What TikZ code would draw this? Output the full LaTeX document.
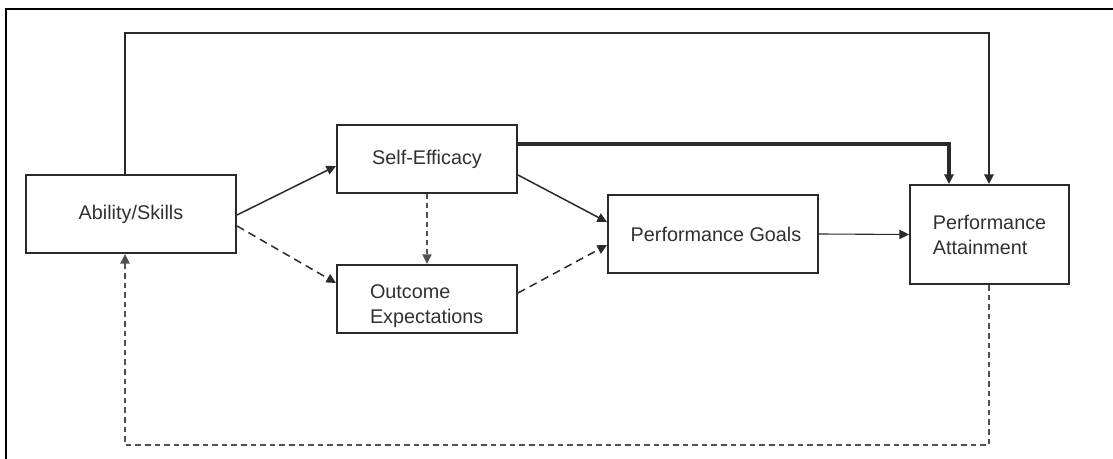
\documentclass[tikz,border=0pt]{standalone}
\usepackage{fontspec}
\setmainfont{Liberation Sans}
\usetikzlibrary{arrows.meta}
\definecolor{ln}{HTML}{2A2A2A}
\definecolor{dg}{HTML}{505050}
\definecolor{tx}{HTML}{303030}
\begin{document}
\begin{tikzpicture}[x=0.5pt,y=-0.5pt,
  box/.style={draw=ln,line width=1pt,rectangle,inner sep=0pt,text=tx,font=\fontsize{9.9}{12.5}\selectfont},
  arr/.style={-{Triangle[length=4.8pt,width=4.6pt]}},
  conn/.style={draw=ln,line width=0.75pt},
  dsh/.style={dash pattern=on 4pt off 2.6pt},
  fb/.style={draw=dg,line width=0.8pt,dash pattern=on 2.8pt off 2pt}]
\useasboundingbox (0,0) rectangle (1113,459);
% outer frame
\draw[line width=0.9pt,black] (6,459) -- (6,9) -- (1113,9);
% boxes
\node[box,minimum width=105pt,minimum height=39pt] (ab) at (131,214) {Ability/Skills};
\node[box,minimum width=90pt,minimum height=34pt] (oe) at (427,299) {\parbox{57pt}{\vspace*{7pt}\baselineskip=12.5pt Outcome\\Expectations}};
\node[box,minimum width=90pt,minimum height=34pt] (se) at (427,159) {Self-Efficacy};
\node[box,minimum width=105pt,minimum height=39pt] (pg) at (713,234) {\hspace{3pt}Performance Goals};
\node[box,minimum width=79.5pt,minimum height=49.5pt,align=left] (pa) at (989.5,234.5) {Performance\\Attainment};
% coordinates
\coordinate (t1) at (125,33);
\coordinate (t2) at (989,33);
\coordinate (s1) at (949,144);
\coordinate (b1) at (989,445);
\coordinate (b2) at (125,445);
% top thick connector
\draw[conn,line width=1.3pt,arr] (ab.north -| t1) -- (t1) -- (t2) -- (pa.north -| t2);
% self-efficacy to attainment
\draw[conn,line width=1.7pt,arr] (se.east |- s1) -- (s1) -- (pa.north -| s1);
% ability -> self-efficacy
\draw[conn,arr] ([yshift=-0.5pt]ab.east) -- ([yshift=-3.5pt]se.west);
% ability -> outcome (dashed)
\draw[conn,dsh,arr] ([yshift=-6pt]ab.east) -- ([yshift=8pt]oe.west);
% self-efficacy -> outcome (gray dashed)
\draw[draw=dg,line width=0.7pt,dash pattern=on 2.6pt off 2pt,arr] (se.south) -- (oe.north);
% self-efficacy -> goals
\draw[conn,arr] ([yshift=-8pt]se.east) -- ([yshift=6pt]pg.west);
% outcome -> goals (dashed)
\draw[conn,dsh,arr] ([yshift=3pt]oe.east) -- ([yshift=-5.5pt]pg.west);
% goals -> attainment
\draw[conn,line width=0.55pt,arr] (pg.east) -- (pa.west);
% feedback
\draw[fb,arr] (pa.south -| b1) -- (b1) -- (b2) -- (ab.south -| b2);
\end{tikzpicture}
\end{document}
